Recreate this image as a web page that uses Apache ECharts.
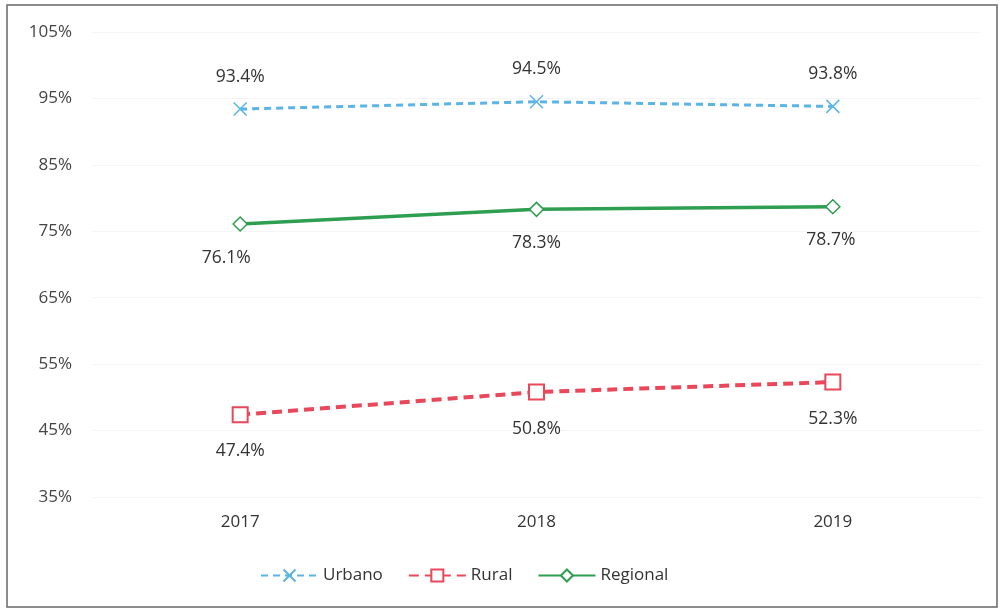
<!DOCTYPE html>
<html>
<head>
<meta charset="utf-8">
<script src="https://cdn.jsdelivr.net/npm/echarts@6/dist/echarts.min.js"></script>
<style>html,body{margin:0;padding:0;background:#fff}#c{width:999px;height:611px}</style>
</head>
<body>
<div id="c"></div>
<script>
var years = ['2017', '2018', '2019'];
var urbano = [93.4, 94.5, 93.8];
var rural = [47.4, 50.8, 52.3];
var regional = [76.1, 78.3, 78.7];
var yTicks = [35, 45, 55, 65, 75, 85, 95, 105];

var font = 'Open Sans';
var chart = echarts.init(document.getElementById('c'));
function lbl(pos, dist) {
  return {show: true, position: pos, distance: dist, color: '#333', fontSize: 17.5, fontFamily: font,
    formatter: function (p) { return p.value.toFixed(1) + '%'; }};
}
function withOffset(arr, offs) {
  return arr.map(function (v, i) { return {value: v, label: {offset: [offs[i], 0]}}; });
}
chart.setOption({
  animation: false,
  backgroundColor: '#fff',
  graphic: [{type: 'rect', shape: {x: 7, y: 5, width: 990, height: 602},
    style: {fill: 'none', stroke: '#666', lineWidth: 1.5}, silent: true}],
  grid: {left: 92, right: 18, top: 32, bottom: 114},
  legend: {
    bottom: 22, left: 255, itemWidth: 57, itemHeight: 15, itemGap: 25,
    textStyle: {fontSize: 17, color: '#333', fontFamily: font},
    data: ['Urbano', 'Rural', 'Regional']
  },
  xAxis: {
    type: 'category', data: years, boundaryGap: true,
    axisLine: {show: false}, axisTick: {show: false},
    axisLabel: {color: '#333', fontSize: 17, fontFamily: font, margin: 17}
  },
  yAxis: {
    type: 'value', min: yTicks[0], max: yTicks[yTicks.length - 1], interval: 10,
    axisLine: {show: false}, axisTick: {show: false},
    axisLabel: {color: '#444', fontSize: 17, fontFamily: font, margin: 20, formatter: '{value}%'},
    splitLine: {show: true, lineStyle: {color: '#f5f5f5', width: 1}}
  },
  series: [
    {
      name: 'Urbano', type: 'line', data: urbano,
      symbol: 'path://M0,0 L10,10 M10,0 L0,10', symbolSize: 13,
      itemStyle: {color: '#5ab4e6', borderColor: '#5ab4e6', borderWidth: 1.5},
      lineStyle: {color: '#5ab4e6', width: 3, type: [7, 5]},
      label: lbl('top', 16)
    },
    {
      name: 'Rural', type: 'line', data: rural,
      symbol: 'rect', symbolSize: 15,
      itemStyle: {color: '#fff', borderColor: '#e8485a', borderWidth: 2},
      lineStyle: {color: '#e8485a', width: 4, type: [10, 6]},
      label: lbl('bottom', 19)
    },
    {
      name: 'Regional', type: 'line', data: withOffset(regional, [-14, 0, -2]),
      symbol: 'diamond', symbolSize: 14,
      itemStyle: {color: '#fff', borderColor: '#2e9e50', borderWidth: 1.5},
      lineStyle: {color: '#2e9e50', width: 3.5},
      label: lbl('bottom', 17)
    }
  ]
});
</script>
</body>
</html>
